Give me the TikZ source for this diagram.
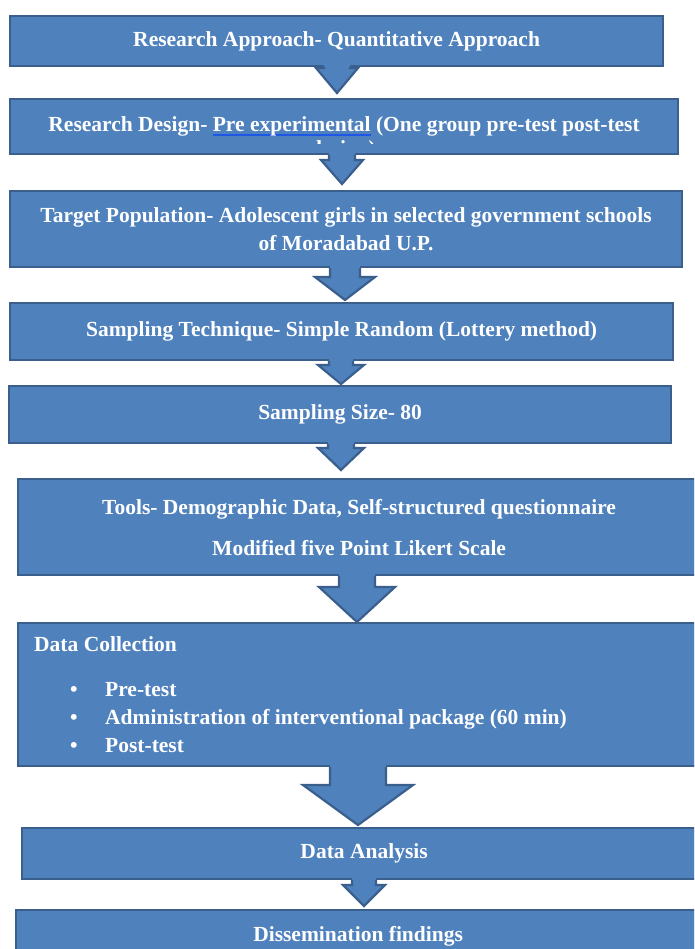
\documentclass[tikz,border=0pt]{standalone}
\usepackage{fontspec}
\setmainfont{Liberation Serif}
\usetikzlibrary{calc,shadows}
\definecolor{boxfill}{HTML}{4F81BD}
\definecolor{boxline}{HTML}{3A5F8C}
\definecolor{linkblue}{HTML}{1E56E6}
\newcommand\bodyfont{\fontsize{21.5}{28}\selectfont\bfseries}
\newsavebox\ulbox
\newcommand\linkul[1]{\sbox\ulbox{#1}\rlap{\color{linkblue}\rule[-4pt]{\wd\ulbox}{1.6pt}}\usebox\ulbox}
% block arrow: from, to, centre x, shaft half width, head half width, head start y, tip gap
\newcommand\blkarrow[7]{%
  \fill[arrowfill] let \p1=(#1.south), \p2=(#2.north) in
    ({(#3-#4)*1pt},{\y1+4pt}) -- ({(#3-#4)*1pt},{-#6pt}) -- ({(#3-#5)*1pt},{-#6pt})
    -- ({#3*1pt},{\y2+#7pt}) -- ({(#3+#5)*1pt},{-#6pt}) -- ({(#3+#4)*1pt},{-#6pt})
    -- ({(#3+#4)*1pt},{\y1+4pt}) -- cycle;
  \draw[arrowline] let \p1=(#1.south), \p2=(#2.north) in
    ({(#3-#4)*1pt},{\y1}) -- ({(#3-#4)*1pt},{-#6pt}) -- ({(#3-#5)*1pt},{-#6pt})
    -- ({#3*1pt},{\y2+#7pt}) -- ({(#3+#5)*1pt},{-#6pt}) -- ({(#3+#4)*1pt},{-#6pt})
    -- ({(#3+#4)*1pt},{\y1});
}
\begin{document}
\begin{tikzpicture}[x=1pt,y=-1pt,
  flowbox/.style={draw=boxline, line width=2.2pt, fill=boxfill, text=white,
    font=\bodyfont, inner sep=0pt, anchor=north west, align=center,
    drop shadow={shadow xshift=1.2pt, shadow yshift=-1.2pt, fill=black, opacity=0.25}},
  txt/.style={text=white, font=\bodyfont, inner sep=0pt},
  arrowfill/.style={fill=boxfill},
  arrowline/.style={draw=boxline, line width=2.2pt, line join=miter}]
\useasboundingbox (0,0) rectangle (694,949);
\clip (0,0) rectangle (694,949);
\fill[white] (0,0) rectangle (694,949);

\node[flowbox, minimum width=653pt, minimum height=50pt] (approach) at (9,15)
  {Research Approach- Quantitative Approach};
\node[flowbox, minimum width=668pt, minimum height=55pt] (design) at (9,98)
  {Research Design- \linkul{Pre experimental} (One group pre-test post-test};
\begin{scope}
  \clip (9,130) rectangle (677,143.5);
  \node[txt, anchor=base] (designrest) at (343,156) {design)};
\end{scope}
\node[flowbox, minimum width=672pt, minimum height=76pt] (population) at (9,190)
  {Target Population- Adolescent girls in selected government schools\\ of Moradabad U.P.};
\node[flowbox, minimum width=663pt, minimum height=57pt] (technique) at (9,302)
  {Sampling Technique- Simple Random (Lottery method)};
\node[flowbox, minimum width=662pt, minimum height=57pt] (size) at (8,385)
  {Sampling Size- 80};
\node[flowbox, minimum width=682pt, minimum height=96pt] (tools) at (17,478)
  {Tools- Demographic Data, Self-structured questionnaire\\[13pt] Modified five Point Likert Scale};
\node[flowbox, minimum width=682pt, minimum height=143pt] (collection) at (17,622) {};
\node[txt, anchor=base west] (dctitle) at (34,651) {Data Collection};
\node[txt, anchor=base] (bul1) at (74,696) {\textbullet};
\node[txt, anchor=base west] (pretest) at (105,696) {Pre-test};
\node[txt, anchor=base] (bul2) at (74,724) {\textbullet};
\node[txt, anchor=base west] (admin) at (105,724) {Administration of interventional package (60 min)};
\node[txt, anchor=base] (bul3) at (74,752) {\textbullet};
\node[txt, anchor=base west] (posttest) at (105,752) {Post-test};
\node[flowbox, minimum width=684pt, minimum height=51pt] (analysis) at (21,827)
  {Data Analysis};
\node[flowbox, minimum width=684pt, minimum height=48pt, text depth=0pt] (dissemination) at (15,909)
  {Dissemination findings};

\blkarrow{approach}{design}{337}{13}{21}{68}{5}
\blkarrow{design}{population}{342}{13}{21}{160}{6}
\blkarrow{population}{technique}{345}{15}{30}{277}{2}
\blkarrow{technique}{size}{341}{12}{23}{365}{1}
\blkarrow{size}{tools}{341}{13}{23}{448}{8}
\blkarrow{tools}{collection}{357}{18}{38}{587}{0}
\blkarrow{collection}{analysis}{358}{28}{55}{785}{2}
\blkarrow{analysis}{dissemination}{364}{12}{21}{885}{3}
\end{tikzpicture}
\end{document}
